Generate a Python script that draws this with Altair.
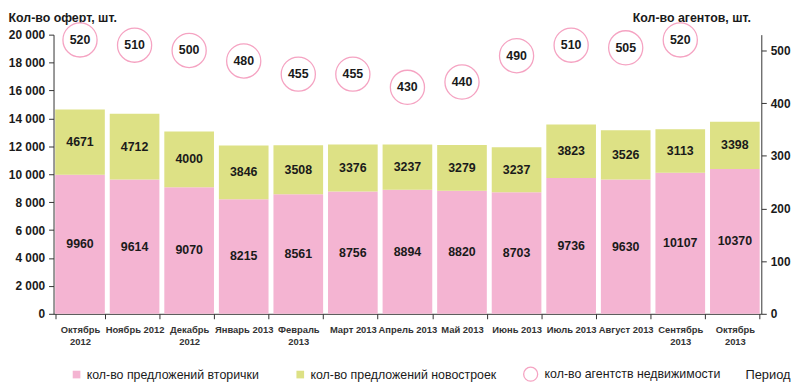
import altair as alt
import pandas as pd

periods = ["Октябрь 2012", "Ноябрь 2012", "Декабрь 2012", "Январь 2013", "Февраль 2013",
           "Март 2013", "Апрель 2013", "Май 2013", "Июнь 2013", "Июль 2013",
           "Август 2013", "Сентябрь 2013", "Октябрь 2013"]
period_labels = [["Октябрь", "2012"], "Ноябрь 2012", ["Декабрь", "2012"], "Январь 2013",
                 ["Февраль", "2013"], "Март 2013", "Апрель 2013", "Май 2013", "Июнь 2013",
                 "Июль 2013", "Август 2013", ["Сентябрь", "2013"], ["Октябрь", "2013"]]
secondary = [9960, 9614, 9070, 8215, 8561, 8756, 8894, 8820, 8703, 9736, 9630, 10107, 10370]
new_build = [4671, 4712, 4000, 3846, 3508, 3376, 3237, 3279, 3237, 3823, 3526, 3113, 3398]
agents = [520, 510, 500, 480, 455, 455, 430, 440, 490, 510, 505, 520, None]

S_NAME = "кол-во предложений вторички"
N_NAME = "кол-во предложений новостроек"
A_NAME = "кол-во агентств недвижимости"

PINK = "#f4b4d2"
GREEN = "#dde185"
RING = "#f5a3c2"
FONT = "Liberation Sans"
TXT = "#1a1a1a"
AX = "#333333"

rows = []
for i, p in enumerate(periods):
    rows.append({"period": p, "series": S_NAME, "value": secondary[i], "ord": 0,
                 "mid": secondary[i] / 2})
    rows.append({"period": p, "series": N_NAME, "value": new_build[i], "ord": 1,
                 "mid": secondary[i] + new_build[i] / 2})
bars_df = pd.DataFrame(rows)
agents_df = pd.DataFrame({"period": periods, "agents": agents}).dropna()
agents_df["lbl"] = A_NAME

label_expr = (
    "({" + ", ".join(
        f"'{p}': " + ("[" + ", ".join(f"'{s}'" for s in l) + "]" if isinstance(l, list) else f"'{l}'")
        for p, l in zip(periods, period_labels)
    ) + "})[datum.value]"
)

x_enc = alt.X(
    "period:N", sort=periods,
    scale=alt.Scale(paddingInner=0.09, paddingOuter=0.03),
    axis=alt.Axis(
        title="Период", titleFont=FONT, titleFontSize=13, titleFontWeight="normal",
        titleColor=TXT, titleAnchor="end", titleAlign="right", titleBaseline="middle",
        titleX=744, titleY=61,
        labelExpr=label_expr, labelAngle=0, labelFont=FONT, labelFontSize=9.5,
        labelFontWeight="bold", labelColor="#333333", labelPadding=6, labelLineHeight=12,
        tickBand="extent", tickSize=5, tickColor=AX, domainColor=AX,
        labelBaseline="top", labelOverlap=False,
    ),
)

left_axis = alt.Axis(
    title="Кол-во оферт, шт.", titleAngle=0, titleAlign="left", titleBaseline="middle",
    titleX=-46, titleY=-17, titleFont=FONT, titleFontSize=12.5, titleFontWeight="bold",
    titleColor=TXT, values=list(range(0, 20001, 2000)),
    labelExpr="replace(format(datum.value, ','), ',', ' ')", labelFont=FONT,
    labelFontSize=12, labelFontWeight="bold", labelColor=TXT, grid=False,
    tickSize=5, tickColor=AX, domainColor=AX, labelPadding=4, labelOverlap=False,
)
left_scale = alt.Scale(domain=[0, 20000], nice=False)

bars = alt.Chart(bars_df).mark_bar().encode(
    x=x_enc,
    y=alt.Y("value:Q", stack="zero", scale=left_scale, axis=left_axis),
    color=alt.Color(
        "series:N",
        scale=alt.Scale(domain=[S_NAME, N_NAME], range=[PINK, GREEN]),
        legend=alt.Legend(
            title=None, orient="none", legendX=17, legendY=337, direction="horizontal",
            symbolType="square", symbolSize=60, symbolStrokeWidth=0, labelFont=FONT,
            labelFontSize=12.5, labelColor=TXT, columnPadding=35, labelOffset=4,
            labelLimit=400,
        ),
    ),
    order=alt.Order("ord:Q"),
)

seg_text = alt.Chart(bars_df).mark_text(
    font=FONT, fontSize=12.5, fontWeight="bold", color=TXT, baseline="middle"
).encode(
    x=alt.X("period:N", sort=periods),
    y=alt.Y("mid:Q", scale=left_scale, axis=left_axis),
    text=alt.Text("value:Q", format="d"),
)

left = alt.layer(bars, seg_text)

y_right = alt.Y(
    "agents:Q",
    scale=alt.Scale(domain=[0, 530], nice=False),
    axis=alt.Axis(
        orient="right", title="Кол-во агентов, шт.", titleAngle=0, titleAlign="right",
        titleBaseline="middle", titleX=-11, titleY=-17, titleFont=FONT, titleFontSize=12.5,
        titleFontWeight="bold", titleColor=TXT, values=[0, 100, 200, 300, 400, 500],
        labelFont=FONT, labelFontSize=12, labelFontWeight="bold", labelColor=TXT,
        grid=False, tickSize=5, tickColor=AX, domainColor=AX, labelPadding=4,
    ),
)

circles = alt.Chart(agents_df).mark_point(
    shape="circle", size=1190, filled=True, fill="white", strokeWidth=1.3, opacity=1
).encode(
    x=alt.X("period:N", sort=periods),
    y=y_right,
    stroke=alt.Stroke(
        "lbl:N",
        scale=alt.Scale(domain=[A_NAME], range=[RING]),
        legend=alt.Legend(
            title=None, orient="none", legendX=474, legendY=335, symbolType="circle",
            symbolSize=200, symbolFillColor="white", symbolStrokeWidth=1.3, labelFont=FONT,
            labelFontSize=12.5, labelColor=TXT, labelOffset=6, labelLimit=400,
        ),
    ),
)

circle_text = alt.Chart(agents_df).mark_text(
    font=FONT, fontSize=12.5, fontWeight="bold", color=TXT, baseline="middle"
).encode(
    x=alt.X("period:N", sort=periods),
    y=y_right,
    text=alt.Text("agents:Q", format="d"),
)

right = alt.layer(circles, circle_text)

chart = alt.layer(left, right).resolve_scale(
    y="independent", color="independent", stroke="independent"
).properties(
    width=715, height=282,
    autosize=alt.AutoSizeParams(type="none"),
    padding={"left": 46, "top": 25, "right": 31, "bottom": 70},
    background="white",
).configure_view(stroke=None)

chart.save("out.html", embed_options={"renderer": "svg", "actions": False})
